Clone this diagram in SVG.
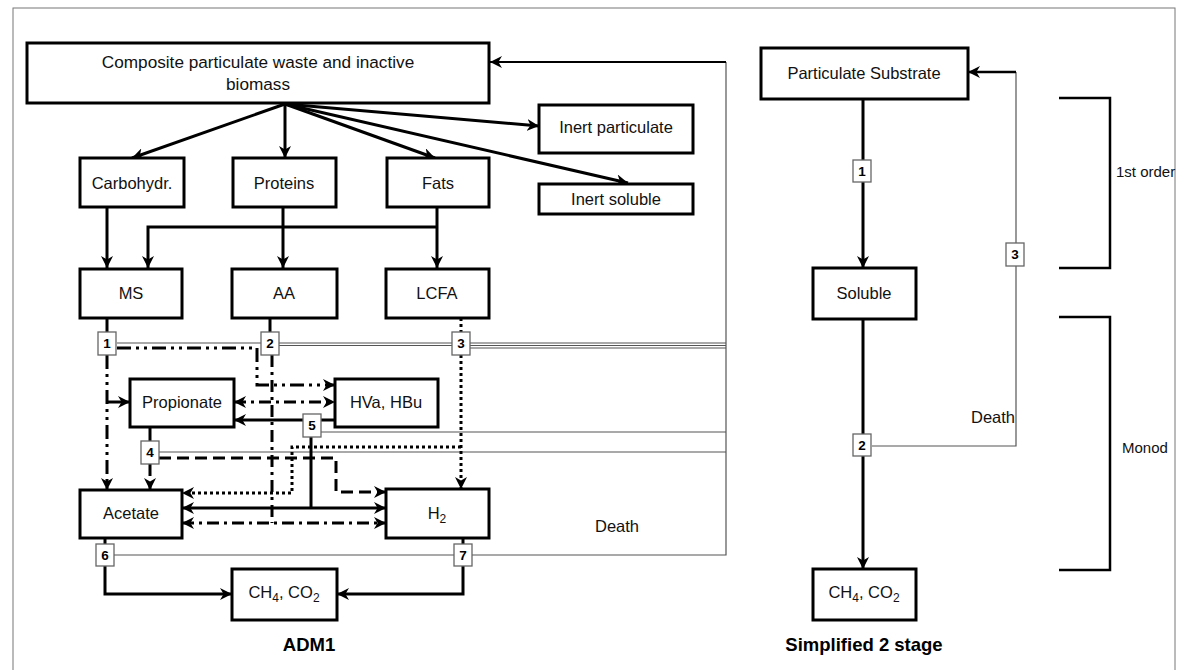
<svg xmlns="http://www.w3.org/2000/svg" width="1177" height="670" viewBox="0 0 1177 670">
<style>
.frame{fill:none;stroke:#777;stroke-width:1}
.box rect{fill:#fff;stroke:#000;stroke-width:3}
.num rect{fill:#fff;stroke:#666;stroke-width:1.3}
.lbl{font-family:"Liberation Sans",Arial,sans-serif;font-size:16.5px;fill:#111;text-anchor:middle}
.big{font-size:17.2px}
.nt{font-family:"Liberation Sans",Arial,sans-serif;font-size:13.5px;font-weight:bold;fill:#000;text-anchor:middle}
.ttl{font-family:"Liberation Sans",Arial,sans-serif;font-size:18.5px;font-weight:bold;fill:#000;text-anchor:middle}
.side{font-family:"Liberation Sans",Arial,sans-serif;font-size:15px;fill:#111}
.thick{fill:none;stroke:#000;stroke-width:3}
.thin{fill:none;stroke:#555;stroke-width:1.2}
.p1{fill:none;stroke:#000;stroke-width:3;stroke-dasharray:14 5 3 5 3 5}
.p2{fill:none;stroke:#000;stroke-width:3;stroke-dasharray:12 5 3 5}
.p3{fill:none;stroke:#000;stroke-width:3;stroke-dasharray:3 3}
.p4{fill:none;stroke:#000;stroke-width:3;stroke-dasharray:12 6}
.brk{fill:none;stroke:#000;stroke-width:2.5}
</style>
<defs>
<marker id="ah" viewBox="0 0 10 10" refX="10" refY="5" markerWidth="12" markerHeight="12" markerUnits="userSpaceOnUse" orient="auto-start-reverse">
<path d="M0,0 L10,5 L0,10 L3,5 z" fill="#000"/>
</marker>
</defs>
<rect class="frame" x="13" y="8" width="1162" height="700"/>

<g id="connectors">
<path class="thick" d="M285,104 L132,158" marker-end="url(#ah)"/>
<path class="thick" d="M285,104 L285,158" marker-end="url(#ah)"/>
<path class="thick" d="M285,104 L435,158" marker-end="url(#ah)"/>
<path class="thick" d="M285,104 L539,126" marker-end="url(#ah)"/>
<path class="thick" d="M285,104 L628,183" marker-end="url(#ah)"/>
<path class="thick" d="M107,207 L107,268" marker-end="url(#ah)"/>
<path class="thick" d="M283,207 L283,268" marker-end="url(#ah)"/>
<path class="thick" d="M437,207 L437,268" marker-end="url(#ah)"/>
<path class="thick" d="M437,227 L148,227 L148,268" marker-end="url(#ah)"/>
<path class="thick" d="M107,318 L107,332"/>
<path class="thick" d="M270,318 L270,332"/>
<path class="p3" d="M461,318 L461,332"/>
<path class="thick" d="M150,427 L150,441"/>
<path class="thick" d="M105,538 L105,544"/>
<path class="thick" d="M463,538 L463,544"/>
<path class="thin" d="M117,343 L726,343"/>
<path class="thin" d="M279,345.5 L726,345.5"/>
<path class="thin" d="M470,348 L726,348"/>
<path class="thin" d="M321,432 L726,432"/>
<path class="thin" d="M159,452 L726,452"/>
<path class="thin" d="M114,555 L726,555 L726,62"/>
<path d="M726,62 L490,62" fill="none" stroke="#000" stroke-width="2" marker-end="url(#ah)"/>
<path class="p1" d="M117,348 L257,348 L257,385 L335,385" marker-end="url(#ah)"/>
<path class="p1" d="M107,355 L107,490" marker-end="url(#ah)"/>
<path class="thick" d="M107,402 L130,402" marker-end="url(#ah)"/>
<path class="p2" d="M272,355 L272,523"/>
<path class="p2" d="M234,402 L335,402" marker-start="url(#ah)" marker-end="url(#ah)"/>
<path class="p2" d="M182,523 L386,523" marker-start="url(#ah)" marker-end="url(#ah)"/>
<path class="p3" d="M461,355 L461,489" marker-end="url(#ah)"/>
<path class="p3" d="M461,447 L292,447 L292,493 L182,493" marker-end="url(#ah)"/>
<path class="p4" d="M150,464 L150,490" marker-end="url(#ah)"/>
<path class="p4" d="M159,458 L336,458 L336,492 L386,492" marker-end="url(#ah)"/>
<path class="thick" d="M335,420 L234,420" marker-end="url(#ah)"/>
<path class="thick" d="M311,437 L311,508"/>
<path class="thick" d="M182,508 L386,508" marker-start="url(#ah)" marker-end="url(#ah)"/>
<path class="thick" d="M105,566 L105,594 L232,594" marker-end="url(#ah)"/>
<path class="thick" d="M463,566 L463,594 L337,594" marker-end="url(#ah)"/>
<path class="thick" d="M863,99 L863,268" marker-end="url(#ah)"/>
<path class="thick" d="M863,319 L863,569" marker-end="url(#ah)"/>
<path class="thin" d="M872,446 L1016,446 L1016,72"/>
<path d="M1016,72 L968,72" fill="none" stroke="#000" stroke-width="2.5" marker-end="url(#ah)"/>
<path class="brk" d="M1059,98 L1110,98 L1110,268 L1059,268"/>
<path class="brk" d="M1059,317 L1110,317 L1110,570 L1059,570"/>
</g>

<g id="composite" class="box"><rect x="27" y="43" width="462" height="60"/>
<text class="lbl big" x="258" y="68">Composite particulate waste and inactive</text>
<text class="lbl big" x="258" y="90">biomass</text></g>
<g id="inert-particulate" class="box"><rect x="539" y="105" width="154" height="48"/><text class="lbl" x="616" y="133">Inert particulate</text></g>
<g id="inert-soluble" class="box"><rect x="539" y="184" width="154" height="30"/><text class="lbl" x="616" y="205">Inert soluble</text></g>
<g id="carbohydr" class="box"><rect x="80" y="158" width="104" height="49"/><text class="lbl" x="132" y="189">Carbohydr.</text></g>
<g id="proteins" class="box"><rect x="233" y="158" width="103" height="49"/><text class="lbl" x="284" y="189">Proteins</text></g>
<g id="fats" class="box"><rect x="387" y="158" width="102" height="49"/><text class="lbl" x="438" y="189">Fats</text></g>
<g id="ms" class="box"><rect x="80" y="269" width="102" height="49"/><text class="lbl" x="131" y="299">MS</text></g>
<g id="aa" class="box"><rect x="232" y="269" width="105" height="49"/><text class="lbl" x="284" y="299">AA</text></g>
<g id="lcfa" class="box"><rect x="386" y="269" width="103" height="49"/><text class="lbl" x="437" y="299">LCFA</text></g>
<g id="propionate" class="box"><rect x="130" y="379" width="104" height="48"/><text class="lbl" x="182" y="408">Propionate</text></g>
<g id="hva-hbu" class="box"><rect x="335" y="379" width="103" height="48"/><text class="lbl" x="386" y="408">HVa, HBu</text></g>
<g id="acetate" class="box"><rect x="80" y="490" width="102" height="48"/><text class="lbl" x="131" y="519">Acetate</text></g>
<g id="h2" class="box"><rect x="386" y="489" width="103" height="49"/><text class="lbl" x="437" y="519">H<tspan font-size="12" dy="4">2</tspan></text></g>
<g id="ch4-co2" class="box"><rect x="232" y="569" width="105" height="51"/><text class="lbl" x="284" y="598">CH<tspan font-size="12" dy="4">4</tspan><tspan dy="-4">, CO</tspan><tspan font-size="12" dy="4">2</tspan></text></g>

<g id="n1" class="num"><rect x="98" y="332" width="18" height="23"/><text class="nt" x="107" y="348">1</text></g>
<g id="n2" class="num"><rect x="261" y="332" width="18" height="23"/><text class="nt" x="270" y="348">2</text></g>
<g id="n3" class="num"><rect x="452" y="332" width="18" height="23"/><text class="nt" x="461" y="348">3</text></g>
<g id="n4" class="num"><rect x="141" y="441" width="18" height="23"/><text class="nt" x="150" y="457">4</text></g>
<g id="n5" class="num"><rect x="303" y="414" width="18" height="23"/><text class="nt" x="312" y="430">5</text></g>
<g id="n6" class="num"><rect x="96" y="544" width="18" height="22"/><text class="nt" x="105" y="560">6</text></g>
<g id="n7" class="num"><rect x="454" y="544" width="18" height="22"/><text class="nt" x="463" y="560">7</text></g>

<g id="death-left"><text class="lbl" x="617" y="532">Death</text></g>
<g id="adm1"><text class="ttl" x="309" y="651">ADM1</text></g>

<g id="particulate-substrate" class="box"><rect x="761" y="48" width="207" height="51"/><text class="lbl" x="864" y="79">Particulate Substrate</text></g>
<g id="soluble" class="box"><rect x="813" y="268" width="103" height="51"/><text class="lbl" x="864" y="299">Soluble</text></g>
<g id="ch4-co2-s" class="box"><rect x="813" y="569" width="103" height="51"/><text class="lbl" x="864" y="598">CH<tspan font-size="12" dy="4">4</tspan><tspan dy="-4">, CO</tspan><tspan font-size="12" dy="4">2</tspan></text></g>
<g id="s1" class="num"><rect x="853" y="160" width="18" height="22"/><text class="nt" x="862" y="176">1</text></g>
<g id="s2" class="num"><rect x="853" y="434" width="18" height="22"/><text class="nt" x="862" y="450">2</text></g>
<g id="s3" class="num"><rect x="1006" y="243" width="18" height="23"/><text class="nt" x="1015" y="259">3</text></g>
<g id="death-right"><text class="lbl" x="1015" y="423" style="text-anchor:end">Death</text></g>
<g id="first-order"><text class="side" x="1116" y="177">1st order</text></g>
<g id="monod"><text class="side" x="1122" y="453">Monod</text></g>
<g id="simplified"><text class="ttl" x="864" y="651">Simplified 2 stage</text></g>
</svg>
